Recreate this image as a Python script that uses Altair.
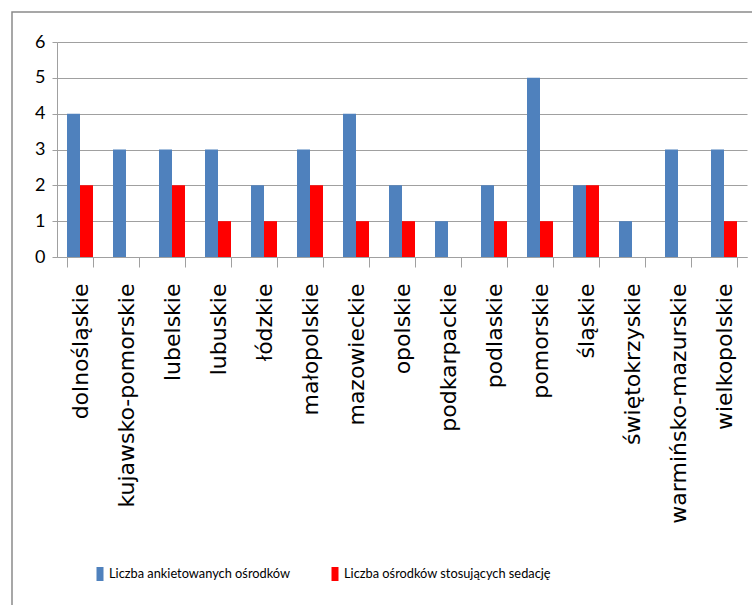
import altair as alt
import pandas as pd

regions = ["dolnośląskie", "kujawsko-pomorskie", "lubelskie", "lubuskie", "łódzkie",
           "małopolskie", "mazowieckie", "opolskie", "podkarpackie", "podlaskie",
           "pomorskie", "śląskie", "świętokrzyskie", "warmińsko-mazurskie", "wielkopolskie"]
surveyed = [4, 3, 3, 3, 2, 3, 4, 2, 1, 2, 5, 2, 1, 3, 3]
sedation = [2, 0, 2, 1, 1, 2, 1, 1, 0, 1, 1, 2, 0, 0, 1]
series = ["Liczba ankietowanych ośrodków", "Liczba ośrodków stosujących sedację"]
colors = ["#4F81BD", "#FF0000"]
y_ticks = [0, 1, 2, 3, 4, 5, 6]

rows = []
for r, a, b in zip(regions, surveyed, sedation):
    rows.append({"region": r, "series": series[0], "value": a})
    rows.append({"region": r, "series": series[1], "value": b})
df = pd.DataFrame(rows)

GRAY = "#A0A0A0"

bars = alt.Chart(df).mark_bar(clip=False).encode(
    x=alt.X("region:N", sort=regions,
            scale=alt.Scale(paddingInner=0.435, paddingOuter=0.2175),
            axis=alt.Axis(title=None, labelAngle=270, labelFont="DejaVu Sans",
                          labelFontSize=22, labelColor="#000000", labelPadding=16,
                          tickBand="extent", tickSize=10, tickColor=GRAY,
                          domainColor=GRAY, grid=False, labelLimit=400)),
    xOffset=alt.XOffset("series:N", sort=series,
                        scale=alt.Scale(paddingInner=0, paddingOuter=0)),
    y=alt.Y("value:Q", scale=alt.Scale(domain=[0, 6], nice=False),
            axis=alt.Axis(title=None, values=y_ticks, grid=True, gridColor=GRAY,
                          tickSize=5, tickColor=GRAY, domainColor=GRAY,
                          labelFont="Lato", labelFontSize=18, labelColor="#000000",
                          labelPadding=7)),
    color=alt.Color("series:N", sort=series,
                    scale=alt.Scale(domain=series, range=colors),
                    legend=alt.Legend(title=None, orient="none", legendX=36, legendY=525,
                                      direction="horizontal", columns=2,
                                      symbolType="M-0.5,-1L0.5,-1L0.5,1L-0.5,1Z",
                                      symbolSize=196, symbolStrokeWidth=0,
                                      labelFont="Lato", labelFontSize=12.8,
                                      labelColor="#000000", labelOffset=2,
                                      columnPadding=37, labelLimit=400)),
)

border = alt.Chart(pd.DataFrame({"a": [0]})).mark_rect(
    filled=False, stroke="#8A8A8A", strokeWidth=1.5, clip=False
).encode(x=alt.value(-45), x2=alt.value(800), y=alt.value(-30), y2=alt.value(700))

chart = alt.layer(border, bars).properties(
    width=690, height=215,
    autosize=alt.AutoSizeParams(type="none"),
    padding={"left": 57, "top": 42, "right": 5, "bottom": 348},
).configure_view(stroke=None)

chart.save("out.html", embed_options={"renderer": "svg", "actions": False})
